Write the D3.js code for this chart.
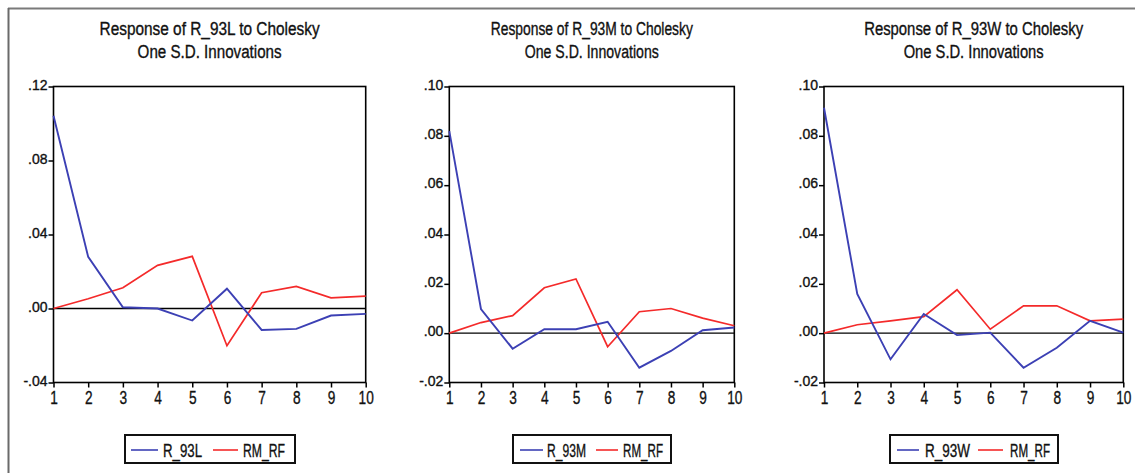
<!DOCTYPE html>
<html>
<head>
<meta charset="utf-8">
<script src="https://cdn.jsdelivr.net/npm/d3@7/dist/d3.min.js"></script>
<style>
  html, body { margin: 0; padding: 0; background: #fff; }
  svg { display: block; font-family: "Liberation Sans", Arial, sans-serif; }
  svg text { stroke: #111; stroke-width: 0.35px; }
</style>
</head>
<body>
<svg id="chart" width="1135" height="473"></svg>
<script>
// ---- data ----
const periods = [1, 2, 3, 4, 5, 6, 7, 8, 9, 10];

const r93lOwn  = [0.1042, 0.0279, 0.0007, 0.0000, -0.0065, 0.0107, -0.0116, -0.0110, -0.0038, -0.0029];
const r93lRm   = [0.0000, 0.0053, 0.0112, 0.0233, 0.0282, -0.0201, 0.0085, 0.0119, 0.0058, 0.0067];

const r93mOwn  = [0.0819, 0.0098, -0.0063, 0.0016, 0.0016, 0.0046, -0.0140, -0.0072, 0.0012, 0.0023];
const r93mRm   = [0.0000, 0.0043, 0.0071, 0.0184, 0.0220, -0.0055, 0.0087, 0.0100, 0.0061, 0.0030];

const r93wOwn  = [0.0914, 0.0159, -0.0106, 0.0078, -0.0008, 0.0002, -0.0140, -0.0059, 0.0050, 0.0002];
const r93wRm   = [0.0000, 0.0034, 0.0050, 0.0067, 0.0176, 0.0016, 0.0111, 0.0111, 0.0050, 0.0057];

const seriesNames = ["R_93L", "R_93M", "R_93W"];
const shockName = "RM_RF";
const titleLine2 = "One S.D. Innovations";

const yTicksL = [-0.04, 0.00, 0.04, 0.08, 0.12];
const yTicksMW = [-0.02, 0.00, 0.02, 0.04, 0.06, 0.08, 0.10];

// ---- layout ----
const panels = [
  { name: seriesNames[0], own: r93lOwn, rm: r93lRm, dom: [-0.04, 0.12], ticks: yTicksL,
    left: 53.5, right: 365.7, t1w: 220, t2w: 144,
    leg: { x0: 125, x1: 295, b0: 131, b1: 158, t1: 163, t1w: 39, r0: 213, r1: 238, t2: 243, t2w: 42 } },
  { name: seriesNames[1], own: r93mOwn, rm: r93mRm, dom: [-0.02, 0.10], ticks: yTicksMW,
    left: 449.3, right: 734.3, t1w: 202, t2w: 134,
    leg: { x0: 513, x1: 671, b0: 520, b1: 543, t1: 547, t1w: 39, r0: 596, r1: 618, t2: 623, t2w: 40 } },
  { name: seriesNames[2], own: r93wOwn, rm: r93wRm, dom: [-0.02, 0.10], ticks: yTicksMW,
    left: 824, right: 1123.3, t1w: 219, t2w: 140,
    leg: { x0: 890, x1: 1058, b0: 897, b1: 919, t1: 925, t1w: 45, r0: 978, r1: 1003, t2: 1010, t2w: 40 } }
];
const plotTop = 86.5, plotBottom = 382.5;
const blue = "#3c40b4", red = "#f42a2a";

const svg = d3.select("#chart");

// outer frame (top + left only visible)
svg.append("line").attr("x1", 8).attr("x2", 1135).attr("y1", 8.5).attr("y2", 8.5)
  .attr("stroke", "#7a7a7a").attr("stroke-width", 2);
svg.append("line").attr("x1", 8.5).attr("x2", 8.5).attr("y1", 8).attr("y2", 473)
  .attr("stroke", "#6a6a6a").attr("stroke-width", 2);

function fmt(v) {
  const s = Math.abs(v).toFixed(2).replace(/^0/, "");
  return (v < 0 ? "-" : "") + s;
}

panels.forEach(p => {
  const x = d3.scaleLinear().domain([1, 10]).range([p.left, p.right]);
  const y = d3.scaleLinear().domain(p.dom).range([plotBottom, plotTop]);
  const g = svg.append("g");
  const cx = (p.left + p.right) / 2;

  // titles
  g.append("text").attr("x", cx).attr("y", 35).attr("text-anchor", "middle")
    .attr("font-size", 18).attr("fill", "#111")
    .attr("textLength", p.t1w).attr("lengthAdjust", "spacingAndGlyphs")
    .text("Response of " + p.name + " to Cholesky");
  g.append("text").attr("x", cx).attr("y", 58).attr("text-anchor", "middle")
    .attr("font-size", 18).attr("fill", "#111")
    .attr("textLength", p.t2w).attr("lengthAdjust", "spacingAndGlyphs")
    .text(titleLine2);

  // y axis
  const ya = g.append("g").attr("transform", `translate(${p.left},0)`)
    .call(d3.axisLeft(y).tickValues(p.ticks).tickSize(5).tickSizeOuter(0).tickFormat(fmt));
  ya.select(".domain").remove();
  ya.selectAll(".tick line").attr("stroke", "#000").attr("stroke-width", 1.5);
  ya.selectAll(".tick text").attr("font-size", 14).attr("fill", "#111")
    .attr("font-family", "Liberation Sans, Arial, sans-serif").attr("x", -6).attr("dy", "0.2em");

  // x axis
  const xa = g.append("g").attr("transform", `translate(0,${plotBottom})`)
    .call(d3.axisBottom(x).tickValues(periods).tickSize(5).tickSizeOuter(0).tickFormat(d3.format("d")));
  xa.select(".domain").remove();
  xa.selectAll(".tick line").attr("stroke", "#000").attr("stroke-width", 1.5);
  xa.selectAll(".tick text").attr("font-size", 19).attr("fill", "#111")
    .attr("font-family", "Liberation Sans, Arial, sans-serif")
    .attr("y", 7).attr("dy", "0.78em").attr("transform", "scale(0.72,1)");

  // plot box
  g.append("rect").attr("x", p.left).attr("y", plotTop)
    .attr("width", p.right - p.left).attr("height", plotBottom - plotTop)
    .attr("fill", "none").attr("stroke", "#000").attr("stroke-width", 1.6);

  // zero line
  g.append("line").attr("x1", p.left).attr("x2", p.right)
    .attr("y1", y(0)).attr("y2", y(0)).attr("stroke", "#000").attr("stroke-width", 1.4);

  const line = d3.line().x((d, i) => x(periods[i])).y(d => y(d));
  g.append("path").datum(p.rm).attr("d", line).attr("fill", "none")
    .attr("stroke", red).attr("stroke-width", 1.7);
  g.append("path").datum(p.own).attr("d", line).attr("fill", "none")
    .attr("stroke", blue).attr("stroke-width", 1.9);

  // legend
  const L = p.leg;
  g.append("rect").attr("x", L.x0).attr("y", 435).attr("width", L.x1 - L.x0).attr("height", 28)
    .attr("fill", "#fff").attr("stroke", "#111").attr("stroke-width", 2);
  g.append("line").attr("x1", L.b0).attr("x2", L.b1).attr("y1", 450).attr("y2", 450)
    .attr("stroke", blue).attr("stroke-width", 1.6);
  g.append("text").attr("x", L.t1).attr("y", 456.5).attr("font-size", 18).attr("fill", "#111")
    .attr("textLength", L.t1w).attr("lengthAdjust", "spacingAndGlyphs").text(p.name);
  g.append("line").attr("x1", L.r0).attr("x2", L.r1).attr("y1", 450).attr("y2", 450)
    .attr("stroke", red).attr("stroke-width", 1.6);
  g.append("text").attr("x", L.t2).attr("y", 456.5).attr("font-size", 18).attr("fill", "#111")
    .attr("textLength", L.t2w).attr("lengthAdjust", "spacingAndGlyphs").text(shockName);
});
</script>
</body>
</html>
